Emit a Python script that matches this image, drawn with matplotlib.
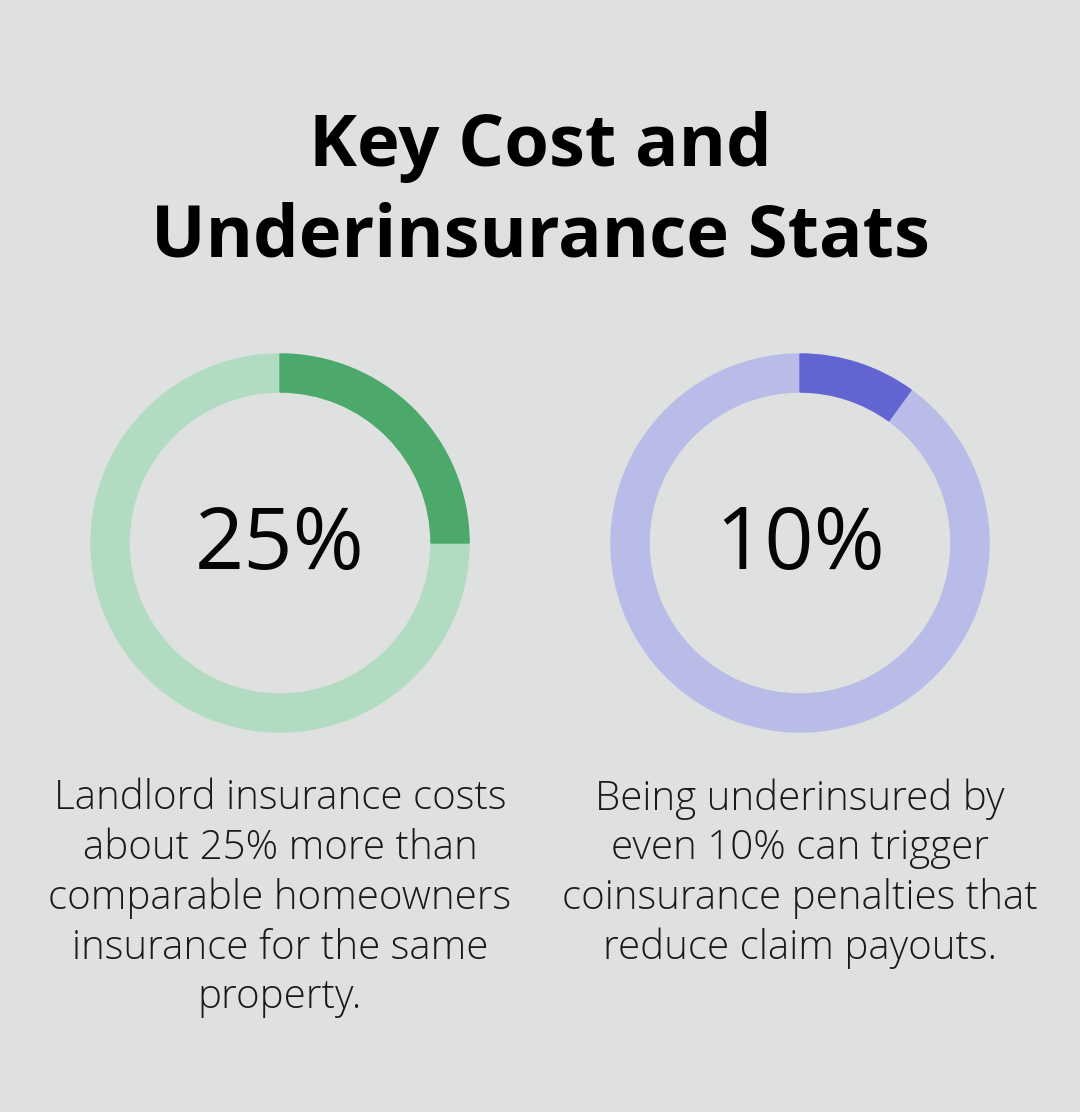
import matplotlib.pyplot as plt
from matplotlib.patches import Wedge

# chart data
percents = [25, 10]
labels = ["25%", "10%"]
captions = [
    "Landlord insurance costs\nabout 25% more than\ncomparable homeowners\ninsurance for the same\nproperty.",
    "Being underinsured by\neven 10% can trigger\ncoinsurance penalties that\nreduce claim payouts.",
]
dark_colors = ["#4DA86B", "#6264D1"]
light_colors = ["#B1DCC1", "#B9BCE8"]
title = "Key Cost and\nUnderinsurance Stats"

bg = "#DFE1E0"
fig = plt.figure(figsize=(10.8, 11.12), dpi=100, facecolor=bg)
ax = fig.add_axes([0, 0, 1, 1])
ax.set_xlim(0, 1080)
ax.set_ylim(1112, 0)
ax.set_aspect("equal")
ax.axis("off")

ax.text(540, 192, title, ha="center", va="center", fontsize=52,
        fontweight="bold", family="Open Sans", linespacing=1.33)

centers = [280, 800]
cy = 543
r_out, width = 189, 38
for cx, pct, lab, cap, dc, lc in zip(centers, percents, labels, captions,
                                     dark_colors, light_colors):
    end = 90 - 360 * pct / 100
    ax.add_patch(Wedge((cx, cy), r_out, -90, 360 - 90, width=width, color=lc))
    # y axis is flipped, so angles are mirrored
    ax.add_patch(Wedge((cx, cy), r_out, -90, -end, width=width, color=dc))
    ax.text(cx, cy + 4, lab, ha="center", va="center", fontsize=62,
            family="Open Sans", fontweight="medium", color="#050505")
    ax.text(cx, 778, cap, ha="center", va="top", fontsize=29,
            family="Open Sans", fontweight="light", linespacing=1.28,
            color="#1A1A1A")

fig.savefig("out.png", dpi=100, facecolor=bg)
